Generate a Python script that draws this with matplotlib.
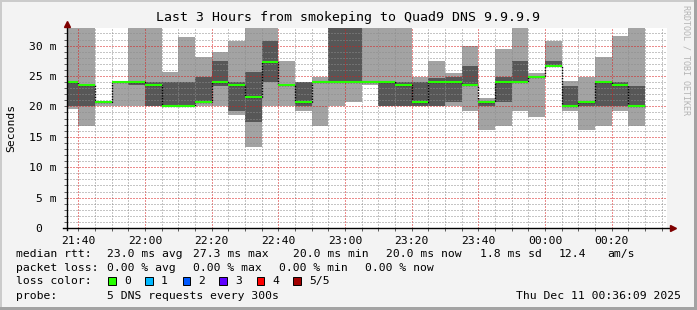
import matplotlib
matplotlib.use("Agg")
import matplotlib.pyplot as plt
import matplotlib.dates as mdates
from matplotlib.patches import Rectangle
from matplotlib.ticker import MultipleLocator, FuncFormatter
import numpy as np
import pandas as pd

# rrd steps of 5 minutes, each value covers the 5 min after its start
step_start = pd.date_range("2025-12-10 21:35", periods=35, freq="5min")

# sorted ping times (ms) per step: min, inner smoke band, median, max
ping_min = [19.5, 16.7, 20.0, 20.0, 20.0, 20.0, 20.0, 20.0, 20.0, 20.0,
            18.6, 13.4, 20.0, 20.0, 19.3, 16.7, 20.0, 20.8, 23.5, 20.0,
            20.0, 20.0, 20.0, 20.0, 19.3, 16.1, 16.7, 19.3, 18.2, 26.6,
            19.3, 16.1, 16.7, 19.3, 16.7]
smoke_lo = [20.0, 20.0, 20.8, 24.0, 23.5, 20.0, 20.0, 20.0, 20.8, 23.4,
            19.3, 17.4, 24.0, 23.5, 20.0, 24.0, 24.0, 24.0, 24.0, 20.0,
            20.0, 20.0, 20.0, 20.7, 23.4, 20.0, 20.8, 24.0, 24.8, 26.6,
            20.0, 20.0, 20.0, 20.0, 20.0]
median = [24.0, 23.5, 20.8, 24.0, 24.0, 23.5, 20.0, 20.0, 20.8, 24.0,
          23.5, 21.5, 27.3, 23.5, 20.8, 24.0, 24.0, 24.0, 24.0, 24.0,
          23.5, 20.8, 24.0, 24.0, 23.5, 20.8, 24.0, 24.0, 24.8, 26.7,
          20.0, 20.8, 24.0, 23.5, 20.0]
smoke_hi = [24.0, 23.5, 20.8, 24.0, 24.0, 24.0, 24.0, 24.0, 24.8, 27.4,
            24.0, 25.6, 30.8, 23.5, 24.0, 24.0, 34.0, 34.0, 24.0, 24.0,
            24.0, 24.0, 24.7, 24.8, 26.7, 20.8, 24.8, 27.4, 24.8, 27.4,
            23.4, 20.8, 24.0, 24.0, 23.4]
ping_max = [34.0, 34.0, 20.8, 24.1, 34.0, 34.0, 25.6, 31.5, 28.2, 28.9,
            30.8, 34.0, 34.0, 27.4, 24.0, 24.8, 34.0, 34.0, 34.0, 34.0,
            34.0, 24.8, 27.4, 25.5, 30.0, 21.4, 29.4, 34.0, 25.5, 30.8,
            24.1, 24.8, 28.2, 31.6, 34.0]

loss_labels = ["0", "1", "2", "3", "4", "5/5"]
loss_colors = ["#26ff00", "#00b8ff", "#0059ff", "#5e00ff", "#ff0000", "#a10000"]

plt.rcParams['font.family'] = 'DejaVu Sans Mono'

W, H = 697, 310
fig = plt.figure(figsize=(W / 100, H / 100), dpi=100, facecolor="#f3f3f3")
ax = fig.add_axes([66.7 / W, 1 - 228 / H, 600 / W, 200 / H])
ax.set_facecolor("white")

def ext(v):
    return np.append(v, v[-1])

x = mdates.date2num(step_start)
step = 5 / 1440
edges = np.append(x, x[-1] + step)

ax.fill_between(edges, ext(ping_min), ext(ping_max), step="post",
                color="#a3a3a3", lw=0, zorder=1)
ax.fill_between(edges, ext(smoke_lo), ext(smoke_hi), step="post",
                color="#575757", lw=0, zorder=1.5)
ax.step(edges, ext(median), where="post", color="black", lw=1,
        ls=(0, (1, 1)), zorder=3)
ax.hlines(median, x, x + step, color=loss_colors[0], lw=1.5, zorder=4)

ax.set_xlim(mdates.date2num(pd.Timestamp("2025-12-10 21:36:30")),
            mdates.date2num(pd.Timestamp("2025-12-11 00:36:30")))
ax.set_ylim(0, 32.9)

ax.xaxis.set_major_locator(mdates.MinuteLocator(byminute=[0, 20, 40]))
ax.xaxis.set_minor_locator(mdates.MinuteLocator(byminute=range(0, 60, 5)))
ax.xaxis.set_major_formatter(mdates.DateFormatter("%H:%M"))
ax.yaxis.set_major_locator(MultipleLocator(5))
ax.yaxis.set_minor_locator(MultipleLocator(1))
ax.yaxis.set_major_formatter(FuncFormatter(lambda v, p: "0  " if v == 0 else "%d m" % v))

ax.set_axisbelow(False)
ax.grid(which="minor", color=(0.55, 0.55, 0.55, 0.28), lw=0.72, ls=(0, (1, 2)))
ax.grid(which="major", color=(0.85, 0.1, 0.1, 0.32), lw=0.72, ls=(0, (1, 2)))
ax.tick_params(which="both", length=2, width=0.6, color="#444444",
               labelsize=8.2, pad=4)
ax.tick_params(axis="y", pad=5)
for s in ax.spines.values():
    s.set_visible(False)

# rrdtool style axes with arrows
ax.plot([-0.006, 1.01], [0, 0], color="black", lw=1, transform=ax.transAxes, clip_on=False, zorder=5)
ax.plot([0, 0], [-0.012, 1.015], color="black", lw=1, transform=ax.transAxes, clip_on=False, zorder=5)
ax.plot([1.01], [0], marker=">", ms=4, color="#7f0000", transform=ax.transAxes, clip_on=False, zorder=6)
ax.plot([0], [1.02], marker="^", ms=4, color="#7f0000", transform=ax.transAxes, clip_on=False, zorder=6)

def px(xp, yp):
    return xp / W, 1 - yp / H

fig.text(*px(348.5, 18), "Last 3 Hours from smokeping to Quad9 DNS 9.9.9.9",
         fontsize=9.5, ha="center", va="center")
fig.text(*px(11, 128), "Seconds", fontsize=8.2, rotation=90, ha="center", va="center")
fig.text(*px(686, 60), "RRDTOOL / TOBI OETIKER", fontsize=6, rotation=270,
         ha="center", va="center", color="#b4b4b4")

fs = 8.2
rows = [
    (254, [(16, "median rtt:"), (107.3, "23.0 ms avg"), (193.3, "27.3 ms max"),
           (293.3, "20.0 ms min"), (386.3, "20.0 ms now"), (479.7, "1.8 ms sd"),
           (558.3, "12.4"), (607, "am/s")]),
    (268, [(16, "packet loss:"), (107.3, "0.00 % avg"), (193.3, "0.00 % max"),
           (279.3, "0.00 % min"), (365.3, "0.00 % now")]),
    (281.3, [(16, "loss color:")]),
    (296.3, [(16, "probe:"), (107.3, "5 DNS requests every 300s")]),
]
for yp, items in rows:
    for xp, t in items:
        fig.text(*px(xp, yp), t, fontsize=fs, ha="left", va="center")
fig.text(*px(680.5, 296.3), "Thu Dec 11 00:36:09 2025", fontsize=fs, ha="right", va="center")

box_x = [108.3, 145.3, 182.7, 219.3, 256.7, 293.3]
for bx, lab, col in zip(box_x, loss_labels, loss_colors):
    fig.add_artist(Rectangle(px(bx, 285.3), 7.4 / W, 8 / H, transform=fig.transFigure,
                             facecolor=col, edgecolor="black", lw=0.7))
    fig.text(*px(bx + 15.5, 281.3), lab, fontsize=fs, ha="left", va="center")

# 3d frame
fig.add_artist(Rectangle((0, 1 - 2 / H), 1, 2 / H, transform=fig.transFigure, color="#cbcbcb", lw=0))
fig.add_artist(Rectangle((0, 0), 2 / W, 1, transform=fig.transFigure, color="#cbcbcb", lw=0))
fig.add_artist(Rectangle((0, 0), 1, 3 / H, transform=fig.transFigure, color="#a3a3a3", lw=0))
fig.add_artist(Rectangle((1 - 3 / W, 0), 3 / W, 1, transform=fig.transFigure, color="#a3a3a3", lw=0))

fig.savefig("out.png", dpi=100, facecolor=fig.get_facecolor())
